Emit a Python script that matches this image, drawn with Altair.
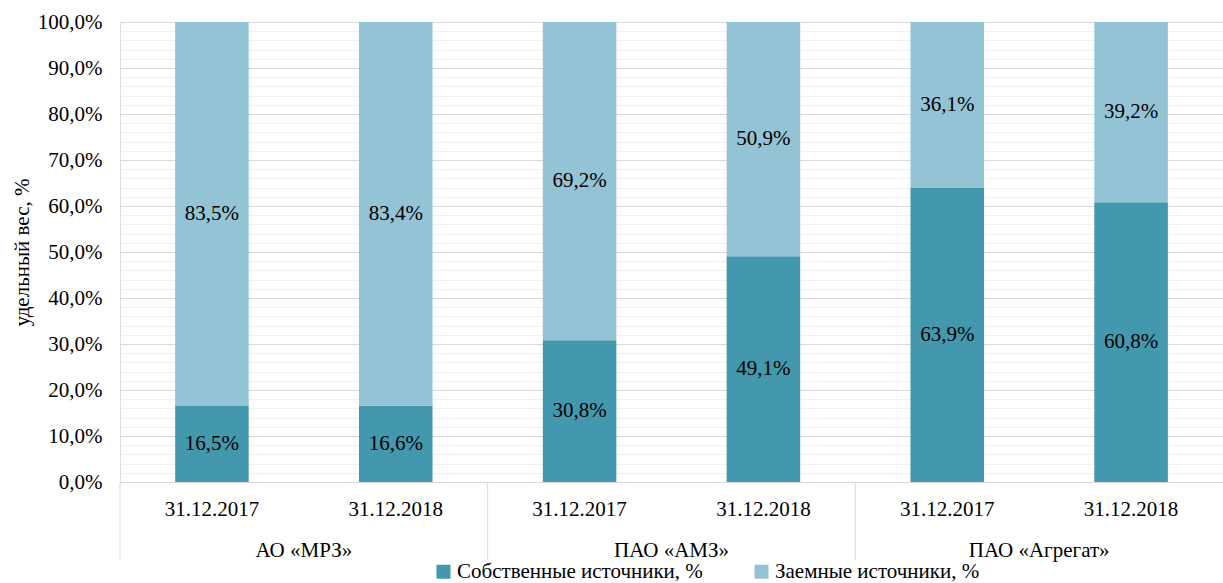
import altair as alt
import pandas as pd

companies = ["АО «МРЗ»", "АО «МРЗ»", "ПАО «АМЗ»", "ПАО «АМЗ»", "ПАО «Агрегат»", "ПАО «Агрегат»"]
dates = ["31.12.2017", "31.12.2018", "31.12.2017", "31.12.2018", "31.12.2017", "31.12.2018"]
own = [16.5, 16.6, 30.8, 49.1, 63.9, 60.8]
borrowed = [83.5, 83.4, 69.2, 50.9, 36.1, 39.2]
series = ["Собственные источники, %", "Заемные источники, %"]
colors = ["#4398ae", "#93c3d5"]
groups = ["АО «МРЗ»", "ПАО «АМЗ»", "ПАО «Агрегат»"]
y_ticks = list(range(0, 101, 2))

rows = []
for c, d, o, b in zip(companies, dates, own, borrowed):
    key = c + "|" + d
    rows.append({"key": key, "group": c, "date": d, "series": series[0], "value": o, "ord": 0})
    rows.append({"key": key, "group": c, "date": d, "series": series[1], "value": b, "ord": 1})
df = pd.DataFrame(rows)
keys = [c + "|" + d for c, d in zip(companies, dates)]

FONT = "Liberation Serif, Times New Roman, serif"
GRID = "#d9d9d9"

base = alt.Chart(df)

x_scale = alt.Scale(domain=keys, paddingInner=0, paddingOuter=0)
x_axis = alt.Axis(
    title=None,
    labelExpr="split(datum.label, '|')[1]",
    labelAngle=0,
    ticks=False,
    domain=True,
    domainColor=GRID,
    labelPadding=16,
    labelFont=FONT,
    labelFontSize=21,
    labelColor="#000000",
    labelOverlap=False,
    labelLimit=300,
    grid=False,
)
y_scale = alt.Scale(domain=[0, 100], nice=False)
y_axis = alt.Axis(
    title="удельный вес, %",
    titleFont=FONT,
    titleFontSize=21,
    titleFontWeight="normal",
    titleColor="#000000",
    titlePadding=5,
    values=y_ticks,
    labelExpr="datum.value % 10 == 0 ? replace(format(datum.value, '.1f'), '.', ',') + '%' : ''",
    labelFont=FONT,
    labelFontSize=21,
    labelColor="#000000",
    labelPadding=18,
    labelOverlap=False,
    labelBound=False,
    ticks=False,
    domain=False,
    grid=True,
    gridColor=alt.condition("datum.value % 10 == 0", alt.value(GRID), alt.value("#efefef")),
    gridWidth=1,
)

bars = base.mark_bar(width=alt.RelativeBandSize(0.4)).encode(
    x=alt.X("key:N", sort=keys, scale=x_scale, axis=x_axis),
    y=alt.Y("value:Q", stack="zero", scale=y_scale, axis=y_axis),
    color=alt.Color(
        "series:N",
        scale=alt.Scale(domain=series, range=colors),
        legend=alt.Legend(
            title=None,
            orient="none",
            legendX=313,
            legendY=539,
            direction="horizontal",
            symbolType="square",
            symbolSize=196,
            symbolStrokeWidth=0,
            symbolOffset=0,
            labelOffset=3,
            labelFont=FONT,
            labelFontSize=21,
            labelColor="#000000",
            labelLimit=400,
            columnPadding=48,
        ),
    ),
    order=alt.Order("ord:Q"),
)

labels = base.transform_stack(
    stack="value", groupby=["key"], as_=["v0", "v1"], sort=[alt.SortField("ord")]
).transform_calculate(
    mid="(datum.v0 + datum.v1) / 2",
    txt="replace(format(datum.value, '.1f'), '.', ',') + '%'",
).mark_text(font=FONT, fontSize=21, color="#000000").encode(
    x=alt.X("key:N", sort=keys, scale=x_scale, axis=x_axis),
    y=alt.Y("mid:Q", scale=y_scale, axis=y_axis),
    text="txt:N",
)

group_df = pd.DataFrame({"group": groups})
g_scale = alt.Scale(domain=groups, paddingInner=0, paddingOuter=0)
g_axis = alt.Axis(
    title=None,
    orient="bottom",
    ticks=False,
    domain=False,
    labelAngle=0,
    labelPadding=57,
    labelFont=FONT,
    labelFontSize=21,
    labelColor="#000000",
    labelOverlap=False,
    labelLimit=300,
    grid=False,
)
separators = alt.Chart(group_df).mark_rule(color=GRID, strokeWidth=1).encode(
    x=alt.X("group:N", sort=groups, scale=g_scale, axis=g_axis, bandPosition=0),
    y=alt.value(460),
    y2=alt.value(538),
)

chart = alt.layer(alt.layer(bars, labels), separators).resolve_scale(
    x="independent"
).resolve_axis(x="independent").properties(
    width=1103,
    height=460,
    autosize=alt.AutoSizeParams(type="none"),
    padding={"left": 120, "top": 22, "right": 0, "bottom": 101},
).configure_view(stroke=None).configure(background="#ffffff", font=FONT)

chart.save("out.html", embed_options={"renderer": "svg", "actions": False})
